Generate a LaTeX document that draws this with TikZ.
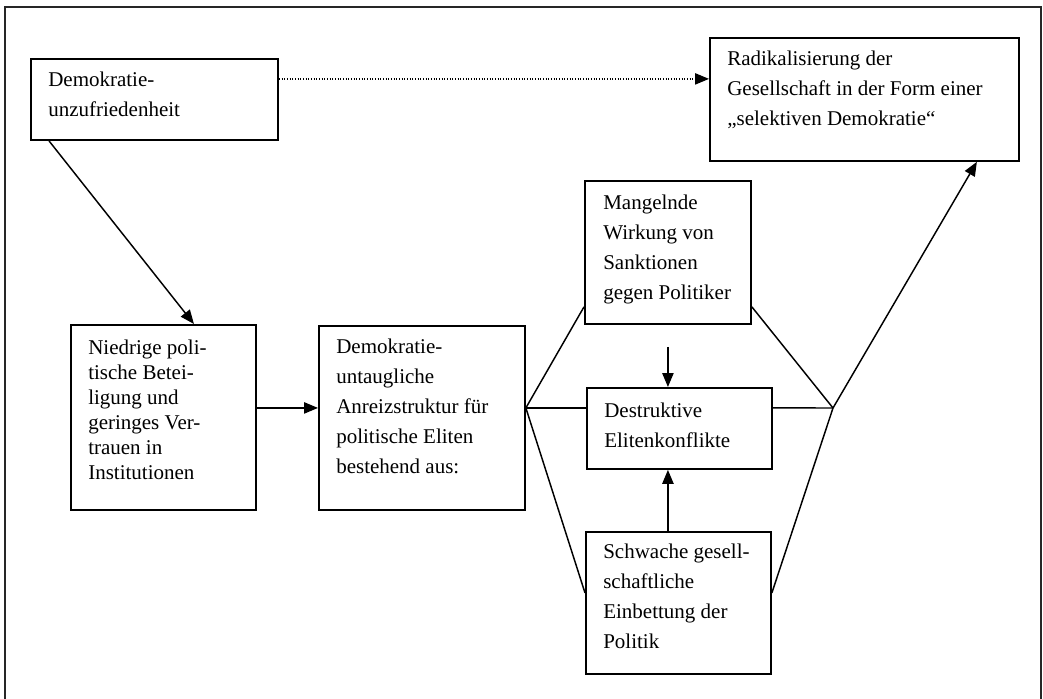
\documentclass[tikz,border=0pt]{standalone}
\usepackage{fontspec}
\setmainfont{Liberation Serif}
\usetikzlibrary{arrows.meta}
\tikzset{
  box/.style={draw, line width=1.4pt, rectangle, inner sep=0pt, anchor=north west},
  txt/.style={anchor=base west, inner sep=0pt, font=\fontsize{15.75pt}{22.5pt}\selectfont},
  txtn/.style={txt, font=\fontsize{15.75pt}{18.75pt}\selectfont},
  conn/.style={line width=1.1pt},
  arr/.style={conn, -{Triangle[length=10.5pt,width=8.5pt]}},
  dotarr/.style={line width=1pt, dash pattern=on 0.8pt off 1.2pt, -{Triangle[length=10.5pt,width=8.5pt]}},
  frame/.style={line width=2.2pt, black!85}
}
\newcommand\mkbox[5]{\node[box, minimum width={(#4-#2)*0.75pt}, minimum height={(#5-#3)*0.75pt}] (#1) at (#2,#3) {};}
\begin{document}
\begin{tikzpicture}[x=0.75pt, y=-0.75pt]
\useasboundingbox (0,0) rectangle (1043,699);
\draw[frame] (5,699) -- (5,7) -- (1041,7) -- (1041,699);
% boxes
\mkbox{A}{30}{58}{277}{139}
\mkbox{R}{709}{37}{1018}{160}
\mkbox{N}{70}{324}{255}{509}
\mkbox{D}{318}{325}{524}{509}
\mkbox{M}{584}{180}{750}{323}
\mkbox{E}{586}{387}{771}{468}
\mkbox{S}{585}{531}{770}{673}
% texts
\node[txt] (At) at (48,87) {\parbox[t]{8cm}{Demokratie-\\unzufriedenheit}};
\node[txt] (Rt) at (727,66) {\parbox[t]{8cm}{Radikalisierung der\\Gesellschaft in der Form einer\\„selektiven Demokratie“}};
\node[txtn] (Nt) at (88,354) {\parbox[t]{8cm}{Niedrige poli-\\tische Betei-\\ligung und\\geringes Ver-\\trauen in\\Institutionen}};
\node[txt] (Dt) at (336,353) {\parbox[t]{8cm}{Demokratie-\\untaugliche\\Anreizstruktur für\\politische Eliten\\bestehend aus:}};
\node[txt] (Mt) at (603,209) {\parbox[t]{8cm}{Mangelnde\\Wirkung von\\Sanktionen\\gegen Politiker}};
\node[txt] (Et) at (604,417) {\parbox[t]{8cm}{Destruktive\\Elitenkonflikte}};
\node[txt] (St) at (603,558) {\parbox[t]{8cm}{Schwache gesell-\\schaftliche\\Einbettung der\\Politik}};
% junctions
\coordinate (j1) at ([yshift=7.5pt]D.east);
\coordinate (j2) at (833,408);
% connectors
\draw[arr] ([xshift=14.25pt]A.south west) -- ([xshift=22.9pt]N.north);
\draw[dotarr] ([yshift=15.4pt]A.east) -- ([yshift=15.4pt]R.west);
\draw[arr] (N.east |- j1) -- (D.west |- j1);
\draw[conn] (j1) -- ([yshift=13.5pt]M.south west);
\draw[conn] (j1) -- (E.west |- j1);
\draw[conn] (j1) -- ([yshift=7.5pt]S.west);
\draw[conn] ([yshift=13.5pt]M.south east) -- (j2);
\draw[conn] (E.east |- j1) -- (j2);
\draw[conn] ([yshift=7.5pt]S.east) -- (j2);
\draw[arr] (j2) -- ([xshift=-32.25pt]R.south east);
\draw[arr] ([yshift=-16.5pt]M.south) -- (M.south |- E.north);
\draw[arr] (M.south |- S.north) -- (M.south |- E.south);
\end{tikzpicture}
\end{document}
